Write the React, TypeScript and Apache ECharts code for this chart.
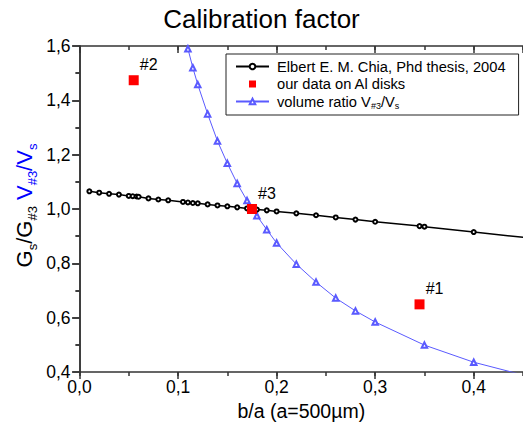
import React, { useEffect, useRef } from 'react';
import * as echarts from 'echarts';

// Elbert E. M. Chia, Phd thesis, 2004
const chiaX = [0.01, 0.02, 0.03, 0.04, 0.05, 0.054, 0.058, 0.06, 0.07, 0.08, 0.09, 0.105, 0.11, 0.115, 0.12, 0.13, 0.14, 0.15, 0.16, 0.17, 0.18, 0.19, 0.2, 0.22, 0.24, 0.26, 0.28, 0.3, 0.345, 0.35, 0.4, 0.5];
const chiaY = [1.065, 1.06, 1.056, 1.053, 1.048, 1.047, 1.046, 1.045, 1.039, 1.035, 1.032, 1.026, 1.024, 1.022, 1.021, 1.017, 1.013, 1.01, 1.006, 1.002, 0.998, 0.995, 0.991, 0.984, 0.977, 0.969, 0.961, 0.953, 0.937, 0.935, 0.915, 0.877];

// volume ratio V#3/Vs
const volX = [0.1, 0.11, 0.115, 0.12, 0.13, 0.14, 0.15, 0.16, 0.17, 0.18, 0.19, 0.2, 0.22, 0.24, 0.26, 0.28, 0.3, 0.35, 0.4, 0.45, 0.5];
const volY = [1.75, 1.59, 1.52, 1.458, 1.35, 1.25, 1.168, 1.094, 1.031, 0.975, 0.924, 0.875, 0.797, 0.731, 0.672, 0.625, 0.584, 0.499, 0.436, 0.389, 0.35];

// our data on Al disks
const ourX = [0.055, 0.175, 0.345];
const ourY = [1.474, 1.0, 0.649];
const ourLabels = ['#2', '#3', '#1'];

const CHIA = 'Elbert E. M. Chia, Phd thesis, 2004';
const OUR = 'our data on Al disks';
const VOL = 'volume ratio V#3/Vs';

const TITLE = 'Calibration factor';
const X_NAME = 'b/a (a=500µm)';

const FONT = "'Liberation Sans', Arial, sans-serif";
const AXIS_COLOR = '#333';
const BLUE = '#5a5aff';

const fmt = (v: number) => v.toFixed(1).replace('.', ',');

export default function App() {
  const ref = useRef<HTMLDivElement>(null);
  useEffect(() => {
    if (!ref.current) return;
    const chart = echarts.init(ref.current, undefined, { renderer: 'svg' });
    const gridRect = { left: 79.5, top: 46, width: 447, height: 326 };
    const axisLine = { show: true, lineStyle: { color: AXIS_COLOR, width: 1.5 } };
    const tickStyle = { color: AXIS_COLOR, width: 1.5 };
    const option: any = {
      animation: false,
      backgroundColor: '#fff',
      grid: [{ ...gridRect }, { ...gridRect }],
      graphic: [
        {
          type: 'text',
          x: 261.5,
          y: 18.5,
          style: { text: TITLE, fontSize: 26, fontFamily: FONT, fill: '#000', align: 'center', verticalAlign: 'middle' },
        },
        {
          type: 'text',
          x: 24,
          y: 205.5,
          rotation: Math.PI / 2,
          style: {
            text: '{g|G}{gs|s}{g|/G}{gs|#3}{g| }{v|V}{vs|#3}{v|/V}{vs|s}',
            align: 'center',
            verticalAlign: 'middle',
            fontFamily: FONT,
            rich: {
              g: { fontSize: 22, lineHeight: 30, fill: '#000', fontFamily: FONT },
              gs: { fontSize: 13, lineHeight: 12, verticalAlign: 'bottom', fill: '#000', fontFamily: FONT },
              v: { fontSize: 22, lineHeight: 30, fill: '#0000ff', fontFamily: FONT },
              vs: { fontSize: 13, lineHeight: 12, verticalAlign: 'bottom', fill: '#0000ff', fontFamily: FONT },
            },
          },
        },
      ],
      legend: {
        orient: 'vertical',
        left: 226,
        top: 54,
        itemWidth: 33,
        itemHeight: 7,
        itemGap: 0.5,
        padding: [4, 13, 5, 9],
        borderColor: '#222',
        borderWidth: 1,
        backgroundColor: '#fff',
        selectedMode: false,
        textStyle: {
          fontSize: 14.7,
          color: '#000',
          fontFamily: FONT,
          lineHeight: 17,
          padding: [0, 0, 0, 3],
          rich: {
            sub: { fontSize: 9, lineHeight: 8, verticalAlign: 'bottom', color: '#000', fontFamily: FONT },
          },
        },
        formatter: (name: string) => (name === VOL ? 'volume ratio V{sub|#3}/V{sub|s}' : name),
        data: [{ name: CHIA }, { name: OUR, icon: 'path://M0,0L10,0L10,10L0,10Z' }, { name: VOL }],
      },
      xAxis: [
        {
          gridIndex: 0,
          type: 'value',
          position: 'bottom',
          min: 0,
          max: 0.45,
          interval: 0.1,
          axisLine,
          axisTick: { show: true, inside: false, length: 7, lineStyle: tickStyle },
          axisLabel: { formatter: fmt, fontSize: 17.5, color: '#000', fontFamily: FONT, margin: 6, showMaxLabel: false },
          splitLine: { show: false },
          name: X_NAME,
          nameLocation: 'middle',
          nameGap: 24,
          nameTextStyle: { fontSize: 19.5, color: '#000', fontFamily: FONT },
        },
        {
          gridIndex: 0,
          type: 'value',
          position: 'top',
          min: 0,
          max: 0.45,
          interval: 0.1,
          axisLine,
          axisTick: { show: true, inside: true, length: 7, lineStyle: tickStyle },
          axisLabel: { show: false },
          splitLine: { show: false },
        },
        {
          gridIndex: 1,
          type: 'value',
          position: 'bottom',
          min: 0,
          max: 0.45,
          interval: 0.05,
          axisLine: { show: false },
          axisTick: { show: true, inside: false, length: 4, lineStyle: tickStyle },
          axisLabel: { show: false },
          splitLine: { show: false },
        },
        {
          gridIndex: 1,
          type: 'value',
          position: 'top',
          min: 0,
          max: 0.45,
          interval: 0.05,
          axisLine: { show: false },
          axisTick: { show: true, inside: true, length: 4, lineStyle: tickStyle },
          axisLabel: { show: false },
          splitLine: { show: false },
        },
      ],
      yAxis: [
        {
          gridIndex: 0,
          type: 'value',
          position: 'left',
          min: 0.4,
          max: 1.6,
          interval: 0.2,
          axisLine,
          axisTick: { show: true, inside: false, length: 7, lineStyle: tickStyle },
          minorTick: { show: true, splitNumber: 2, length: 4, lineStyle: tickStyle },
          axisLabel: { formatter: fmt, fontSize: 17.5, color: '#000', fontFamily: FONT, margin: 9 },
          splitLine: { show: false },
          minorSplitLine: { show: false },
        },
        {
          gridIndex: 0,
          type: 'value',
          position: 'right',
          min: 0.4,
          max: 1.6,
          interval: 0.2,
          axisLine,
          axisTick: { show: true, inside: true, length: 7.5, lineStyle: tickStyle },
          minorTick: { show: true, splitNumber: 2, length: 4, lineStyle: tickStyle },
          axisLabel: { show: false },
          splitLine: { show: false },
          minorSplitLine: { show: false },
        },
        { gridIndex: 1, type: 'value', min: 0.4, max: 1.6, show: false },
      ],
      series: [
        {
          name: CHIA,
          type: 'line',
          xAxisIndex: 0,
          yAxisIndex: 0,
          data: chiaX.map((x, i) => [x, chiaY[i]]),
          symbol: 'emptyCircle',
          symbolSize: 4,
          showAllSymbol: true,
          lineStyle: { color: '#000', width: 1.5 },
          itemStyle: { color: '#000', borderWidth: 1 },
          z: 3,
        },
        {
          name: OUR,
          type: 'scatter',
          xAxisIndex: 0,
          yAxisIndex: 0,
          data: ourX.map((x, i) => [x, ourY[i]]),
          symbol: 'rect',
          symbolSize: 10,
          itemStyle: { color: '#ff0000', opacity: 1 },
          label: {
            show: true,
            position: 'inside',
            offset: [15, -16],
            formatter: (p: any) => ourLabels[p.dataIndex],
            fontSize: 16,
            color: '#000',
            opacity: 1,
            fontFamily: FONT,
          },
          z: 5,
        },
        {
          name: VOL,
          type: 'line',
          xAxisIndex: 0,
          yAxisIndex: 0,
          data: volX.map((x, i) => [x, volY[i]]),
          symbol: 'emptyTriangle',
          symbolSize: 5.5,
          showAllSymbol: true,
          lineStyle: { color: BLUE, width: 1 },
          itemStyle: { color: BLUE, borderWidth: 0.8 },
          z: 2,
        },
      ],
    };
    chart.setOption(option);
    return () => chart.dispose();
  }, []);
  return <div ref={ref} style={{ position: 'absolute', left: 0, top: 0, width: 523, height: 432 }} />;
}
